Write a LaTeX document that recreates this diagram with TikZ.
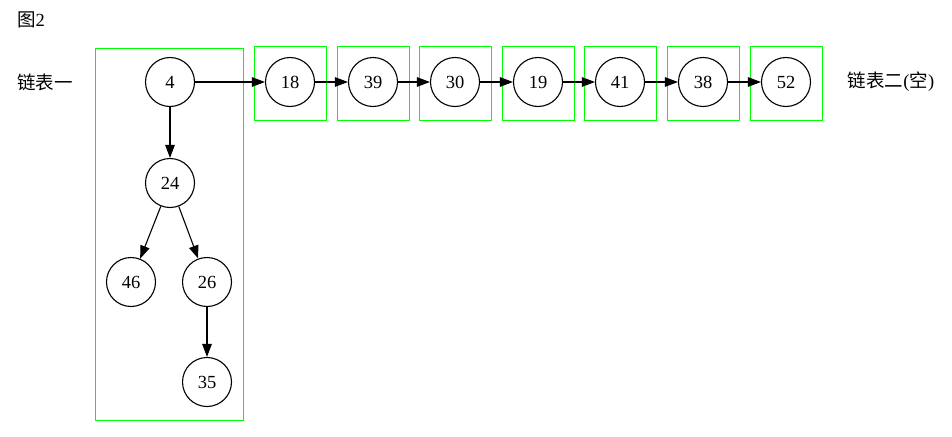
\documentclass[tikz,border=0pt]{standalone}
\usepackage{fontspec}
\setmainfont{Liberation Serif}
\newfontfamily\cjk{Noto Sans CJK SC}
\usetikzlibrary{arrows.meta}
\definecolor{gvgreen}{RGB}{0,255,0}
\begin{document}
\begin{tikzpicture}[x=1pt,y=-1pt,
  vnode/.style={draw=black,circle,line width=1.1pt,minimum size=49pt,inner sep=0pt,font=\fontsize{18.5}{20}\selectfont},
  cbox/.style={draw=gvgreen,line width=1.3pt},
  lbl/.style={inner sep=0pt,font=\fontsize{18.5}{20}\selectfont},
  edge/.style={draw=black,line width=1.1pt,-{Triangle[length=13pt,width=9.5pt]}}]
\useasboundingbox (0,0) rectangle (952,436);
\node[lbl,anchor=west] (title) at (17,20) {{\cjk 图}2};
\node[lbl] (l1) at (45,82) {\cjk 链表一};
\node[lbl] (l2) at (891,82) {{\cjk 链表二}({\cjk 空})};
% cluster boxes
\draw[cbox] (95.5,48.5) rectangle (243.5,420.5);
\foreach \x in {254.5,337.5,419.5,502.5,584.5,667.5,750.5}{
  \draw[cbox] (\x,46.5) rectangle ++(72,74);
}
% nodes
\node[vnode] (n4) at (170,82) {4};
\node[vnode] (n24) at (170,183) {24};
\node[vnode] (n46) at (131,282) {46};
\node[vnode] (n26) at (207,282) {26};
\node[vnode] (n35) at (207,382) {35};
\node[vnode] (n18) at (290,82) {18};
\node[vnode] (n39) at (373,82) {39};
\node[vnode] (n30) at (455,82) {30};
\node[vnode] (n19) at (538,82) {19};
\node[vnode] (n41) at (620,82) {41};
\node[vnode] (n38) at (703,82) {38};
\node[vnode] (n52) at (786,82) {52};
% edges
\draw[edge] (n4) -- (n24);
\draw[edge] (n24) -- (n46);
\draw[edge] (n24) -- (n26);
\draw[edge] (n26) -- (n35);
\draw[edge] (n4) -- (n18);
\draw[edge] (n18) -- (n39);
\draw[edge] (n39) -- (n30);
\draw[edge] (n30) -- (n19);
\draw[edge] (n19) -- (n41);
\draw[edge] (n41) -- (n38);
\draw[edge] (n38) -- (n52);
\end{tikzpicture}
\end{document}
